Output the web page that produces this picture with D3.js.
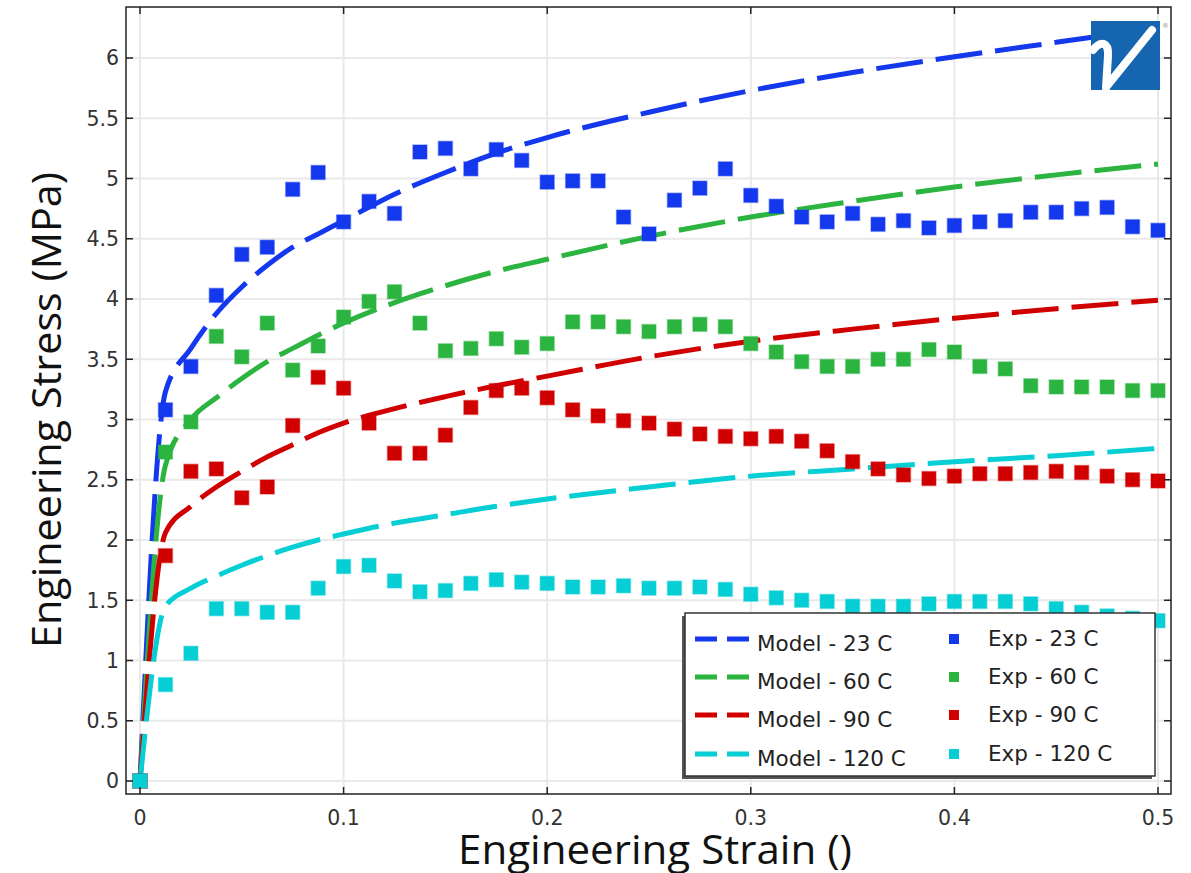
<!DOCTYPE html>
<html>
<head>
<meta charset="utf-8">
<script src="https://cdn.jsdelivr.net/npm/d3@7"></script>
<style>
  body { margin: 0; background: #fff; }
  svg { display: block; }
</style>
</head>
<body>
<script>
const width = 1191;
const height = 873;

// strain values shared by the model curves
const modelStrain = [0, 0.0125, 0.025, 0.0375, 0.05, 0.0625, 0.075, 0.0875, 0.1, 0.125, 0.15, 0.175, 0.2, 0.25, 0.3, 0.35, 0.4, 0.45, 0.5];
const model23 = [0, 3.23, 3.59, 3.88, 4.10, 4.28, 4.43, 4.54, 4.65, 4.87, 5.05, 5.21, 5.34, 5.55, 5.73, 5.88, 6.01, 6.13, 6.25];
const model60 = [0, 2.62, 3.00, 3.18, 3.34, 3.48, 3.59, 3.70, 3.80, 3.97, 4.11, 4.23, 4.33, 4.52, 4.68, 4.81, 4.93, 5.03, 5.12];
const model90 = [0, 2.06, 2.28, 2.44, 2.57, 2.69, 2.79, 2.89, 2.97, 3.09, 3.19, 3.28, 3.36, 3.52, 3.65, 3.75, 3.84, 3.92, 3.99];
const model120 = [0, 1.45, 1.60, 1.70, 1.79, 1.87, 1.94, 2.00, 2.05, 2.14, 2.21, 2.28, 2.34, 2.44, 2.53, 2.59, 2.65, 2.70, 2.76];

// experimental points, one every 0.0125 strain
const expStrain = [0, 0.0125, 0.025, 0.0375, 0.05, 0.0625, 0.075, 0.0875, 0.1, 0.1125, 0.125, 0.1375, 0.15, 0.1625, 0.175, 0.1875, 0.2, 0.2125, 0.225, 0.2375, 0.25, 0.2625, 0.275, 0.2875, 0.3, 0.3125, 0.325, 0.3375, 0.35, 0.3625, 0.375, 0.3875, 0.4, 0.4125, 0.425, 0.4375, 0.45, 0.4625, 0.475, 0.4875, 0.5];
const exp23 = [0, 3.08, 3.44, 4.03, 4.37, 4.43, 4.91, 5.05, 4.64, 4.81, 4.71, 5.22, 5.25, 5.08, 5.24, 5.15, 4.97, 4.98, 4.98, 4.68, 4.54, 4.82, 4.92, 5.08, 4.86, 4.77, 4.68, 4.64, 4.71, 4.62, 4.65, 4.59, 4.61, 4.64, 4.65, 4.72, 4.72, 4.75, 4.76, 4.60, 4.57];
const exp60 = [0, 2.73, 2.98, 3.69, 3.52, 3.80, 3.41, 3.61, 3.85, 3.98, 4.06, 3.80, 3.57, 3.59, 3.67, 3.60, 3.63, 3.81, 3.81, 3.77, 3.73, 3.77, 3.79, 3.77, 3.63, 3.56, 3.48, 3.44, 3.44, 3.50, 3.50, 3.58, 3.56, 3.44, 3.42, 3.28, 3.27, 3.27, 3.27, 3.24, 3.24];
const exp90 = [0, 1.87, 2.57, 2.59, 2.35, 2.44, 2.95, 3.35, 3.26, 2.97, 2.72, 2.72, 2.87, 3.10, 3.24, 3.26, 3.18, 3.08, 3.03, 2.99, 2.97, 2.92, 2.88, 2.86, 2.84, 2.86, 2.82, 2.74, 2.65, 2.59, 2.54, 2.51, 2.53, 2.55, 2.55, 2.56, 2.57, 2.56, 2.53, 2.50, 2.49];
const exp120 = [0, 0.80, 1.06, 1.43, 1.43, 1.40, 1.40, 1.60, 1.78, 1.79, 1.66, 1.57, 1.58, 1.64, 1.67, 1.65, 1.64, 1.61, 1.61, 1.62, 1.60, 1.60, 1.61, 1.59, 1.55, 1.52, 1.50, 1.49, 1.45, 1.45, 1.45, 1.47, 1.49, 1.49, 1.49, 1.47, 1.43, 1.40, 1.37, 1.35, 1.33];

const seriesNames = ["23 C", "60 C", "90 C", "120 C"];
const seriesColors = ["#1438ee", "#2bb540", "#d10000", "#05ced4"];
const modelValues = [model23, model60, model90, model120];
const expValues = [exp23, exp60, exp90, exp120];

const xTicks = [0, 0.1, 0.2, 0.3, 0.4, 0.5];
const yTicks = [0, 0.5, 1, 1.5, 2, 2.5, 3, 3.5, 4, 4.5, 5, 5.5, 6];

// plot frame
const frame = { left: 126, right: 1171, top: 7, bottom: 794 };

const x = d3.scaleLinear().domain([0, 0.5]).range([140, 1158]);
const y = d3.scaleLinear().domain([0, 6]).range([781, 58]);

const svg = d3.select("body").append("svg")
  .attr("width", width)
  .attr("height", height);

svg.append("defs").append("clipPath").attr("id", "plot-clip")
  .append("rect")
  .attr("x", frame.left).attr("y", frame.top)
  .attr("width", frame.right - frame.left)
  .attr("height", frame.bottom - frame.top);

// grid
const grid = svg.append("g").attr("stroke", "#e9e9e9").attr("stroke-width", 2);
grid.selectAll(".gx").data(xTicks).join("line")
  .attr("x1", d => x(d)).attr("x2", d => x(d))
  .attr("y1", frame.top).attr("y2", frame.bottom);
grid.selectAll(".gy").data(yTicks).join("line")
  .attr("y1", d => y(d)).attr("y2", d => y(d))
  .attr("x1", frame.left).attr("x2", frame.right);

// model curves
const plot = svg.append("g").attr("clip-path", "url(#plot-clip)");
const line = d3.line()
  .x(d => x(d[0]))
  .y(d => y(d[1]))
  .curve(d3.curveMonotoneX);

modelValues.forEach((vals, i) => {
  plot.append("path")
    .datum(modelStrain.map((s, j) => [s, vals[j]]))
    .attr("d", line)
    .attr("fill", "none")
    .attr("stroke", seriesColors[i])
    .attr("stroke-width", 5)
    .attr("stroke-dasharray", "47,13");
});

// experimental squares
const sq = 14;
expValues.forEach((vals, i) => {
  plot.append("g").selectAll("rect")
    .data(expStrain.map((s, j) => [s, vals[j]]))
    .join("rect")
    .attr("x", d => x(d[0]) - sq / 2)
    .attr("y", d => y(d[1]) - sq / 2)
    .attr("width", sq)
    .attr("height", sq)
    .attr("fill", seriesColors[i])
    .attr("stroke", seriesColors[i])
    .attr("stroke-opacity", 0.4)
    .attr("stroke-width", 1.5);
});

// frame + inward ticks on all sides
const axes = svg.append("g").attr("stroke", "#222").attr("stroke-width", 1.5);
axes.append("rect")
  .attr("x", frame.left).attr("y", frame.top)
  .attr("width", frame.right - frame.left)
  .attr("height", frame.bottom - frame.top)
  .attr("fill", "none");
const tl = 7;
xTicks.forEach(t => {
  axes.append("line").attr("x1", x(t)).attr("x2", x(t)).attr("y1", frame.bottom).attr("y2", frame.bottom - tl);
  axes.append("line").attr("x1", x(t)).attr("x2", x(t)).attr("y1", frame.top).attr("y2", frame.top + tl);
});
yTicks.forEach(t => {
  axes.append("line").attr("y1", y(t)).attr("y2", y(t)).attr("x1", frame.left).attr("x2", frame.left + tl);
  axes.append("line").attr("y1", y(t)).attr("y2", y(t)).attr("x1", frame.right).attr("x2", frame.right - tl);
});

// tick labels
const labels = svg.append("g")
  .attr("font-family", "DejaVu Sans")
  .attr("font-size", 20.5)
  .attr("fill", "#333");
labels.selectAll(".xl").data(xTicks).join("text")
  .attr("x", d => x(d))
  .attr("y", 825)
  .attr("text-anchor", "middle")
  .text(d => d3.format("~g")(d));
labels.selectAll(".yl").data(yTicks).join("text")
  .attr("x", 119)
  .attr("y", d => y(d))
  .attr("dy", "0.36em")
  .attr("text-anchor", "end")
  .text(d => d3.format("~g")(d));

// axis titles
svg.append("text")
  .attr("x", 458)
  .attr("y", 864)
  .attr("font-family", "Open Sans")
  .attr("font-size", 40)
  .attr("fill", "#111")
  .attr("textLength", 394)
  .attr("lengthAdjust", "spacingAndGlyphs")
  .text("Engineering Strain ()");

svg.append("text")
  .attr("transform", "translate(61,648) rotate(-90)")
  .attr("x", 0)
  .attr("y", 0)
  .attr("font-family", "Open Sans")
  .attr("font-size", 40)
  .attr("fill", "#111")
  .attr("textLength", 476)
  .attr("lengthAdjust", "spacingAndGlyphs")
  .text("Engineering Stress (MPa)");

// legend
const legend = svg.append("g");
legend.append("rect")
  .attr("x", 682).attr("y", 616)
  .attr("width", 470).attr("height", 163)
  .attr("fill", "#555");
legend.append("rect")
  .attr("x", 685).attr("y", 613)
  .attr("width", 470).attr("height", 163)
  .attr("fill", "#fff")
  .attr("stroke", "#333")
  .attr("stroke-width", 1.5);

const rowY = [639, 677, 715, 754];
seriesNames.forEach((name, i) => {
  legend.append("line")
    .attr("x1", 695).attr("x2", 749)
    .attr("y1", rowY[i]).attr("y2", rowY[i])
    .attr("stroke", seriesColors[i])
    .attr("stroke-width", 5)
    .attr("stroke-dasharray", "22,10");
  legend.append("text")
    .attr("x", 757).attr("y", rowY[i] + 12)
    .attr("font-family", "DejaVu Sans")
    .attr("font-size", 21.5)
    .attr("fill", "#222")
    .text("Model - " + name);
  legend.append("rect")
    .attr("x", 949).attr("y", rowY[i] - 5)
    .attr("width", 10).attr("height", 10)
    .attr("fill", seriesColors[i]);
  legend.append("text")
    .attr("x", 988).attr("y", rowY[i] + 7)
    .attr("font-family", "DejaVu Sans")
    .attr("font-size", 21.5)
    .attr("fill", "#222")
    .text("Exp - " + name);
});

// logo in the corner
const logo = svg.append("g");
logo.append("rect")
  .attr("x", 1091).attr("y", 21)
  .attr("width", 69).attr("height", 69)
  .attr("fill", "#1565b0");
logo.append("path")
  .attr("d", "M1093,50 C1101,40 1109,42 1108,56 L1106,88 M1107,86 L1152,30")
  .attr("fill", "none")
  .attr("stroke", "#fff")
  .attr("stroke-width", 8)
  .attr("stroke-linecap", "round");
logo.append("text")
  .attr("x", 1162).attr("y", 28)
  .attr("font-family", "DejaVu Sans")
  .attr("font-size", 7)
  .attr("fill", "#999")
  .text("®");
</script>
</body>
</html>
